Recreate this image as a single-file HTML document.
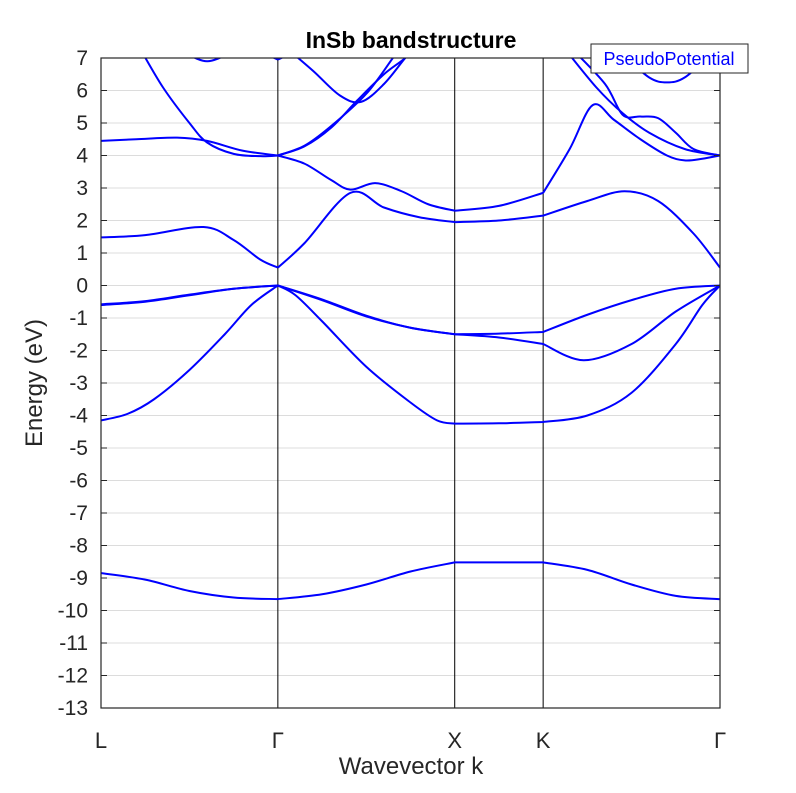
<!DOCTYPE html>
<html><head><meta charset="utf-8"><style>
html,body{margin:0;padding:0;background:#fff;}
svg{display:block;font-family:"Liberation Sans",sans-serif;}
</style></head><body>
<svg id="chart" width="796" height="793">
<rect width="796" height="793" fill="#fff"/>
<defs><clipPath id="plotclip"><rect x="101" y="58" width="619" height="650"/></clipPath></defs>
<g id="grid"></g>
<g id="vlines"></g>
<g id="bands" clip-path="url(#plotclip)"></g>
<rect x="101" y="58" width="619" height="650" fill="none" stroke="#262626" stroke-width="1.2"/>
<g id="yticks"></g>
<g id="xticks"></g>
<text x="411" y="48" text-anchor="middle" font-size="23" font-weight="bold" fill="#000">InSb bandstructure</text>
<text x="411" y="774" text-anchor="middle" font-size="24" fill="#262626">Wavevector k</text>
<text transform="translate(42,383) rotate(-90)" text-anchor="middle" font-size="24" fill="#262626">Energy (eV)</text>
<g>
<rect x="591" y="44" width="157" height="29" fill="#fff" stroke="#262626" stroke-width="1"/>
<text x="669" y="65" text-anchor="middle" font-size="18" fill="#0000ff">PseudoPotential</text>
</g>
</svg>
<script>
const kTicks = [0, 1, 2, 2.5, 3.5];
const kLabels = ["L", "Γ", "X", "K", "Γ"];
const yTickValues = [7,6,5,4,3,2,1,0,-1,-2,-3,-4,-5,-6,-7,-8,-9,-10,-11,-12,-13];
const band1 = [[0,-8.85],[0.25,-9.05],[0.5,-9.4],[0.75,-9.6],[1,-9.65],[1.25,-9.5],[1.5,-9.2],[1.75,-8.8],[2,-8.52],[2.25,-8.52],[2.5,-8.52],[2.75,-8.75],[3,-9.2],[3.25,-9.55],[3.5,-9.65]];
const band2 = [[0,-4.15],[0.15,-3.95],[0.3,-3.5],[0.5,-2.6],[0.7,-1.5],[0.85,-0.6],[1,0],[1.1,-0.3],[1.25,-1.1],[1.5,-2.5],[1.75,-3.6],[1.9,-4.15],[2,-4.25],[2.25,-4.24],[2.5,-4.2],[2.75,-4.0],[3,-3.3],[3.25,-1.8],[3.4,-0.6],[3.5,0]];
const band3 = [[0,-0.6],[0.25,-0.5],[0.5,-0.3],[0.75,-0.1],[1,0],[1.25,-0.45],[1.5,-0.95],[1.75,-1.3],[2,-1.5],[2.25,-1.6],[2.5,-1.8],[2.73,-2.3],[3,-1.8],[3.25,-0.8],[3.5,0]];
const band4 = [[0,-0.58],[0.25,-0.48],[0.5,-0.28],[0.75,-0.1],[1,0],[1.25,-0.43],[1.5,-0.93],[1.75,-1.3],[2,-1.5],[2.25,-1.48],[2.5,-1.43],[2.75,-0.9],[3,-0.45],[3.25,-0.1],[3.5,0]];
const band5 = [[0,1.48],[0.25,1.55],[0.58,1.8],[0.75,1.4],[0.9,0.8],[1,0.55],[1.15,1.3],[1.41,2.85],[1.6,2.4],[1.8,2.1],[2,1.95],[2.25,2.0],[2.5,2.15],[2.75,2.6],[2.96,2.9],[3.15,2.6],[3.35,1.6],[3.5,0.55]];
const band6 = [[0,4.45],[0.2,4.5],[0.43,4.55],[0.6,4.45],[0.8,4.15],[1,4.0],[1.15,3.75],[1.3,3.25],[1.41,2.95],[1.55,3.15],[1.7,2.9],[1.85,2.5],[2,2.3],[2.25,2.45],[2.5,2.85],[2.65,4.2],[2.78,5.55],[2.9,5.1],[3.05,4.5],[3.2,4.0],[3.3,3.85],[3.4,3.9],[3.5,4.0]];
const band7 = [[0.22,7.3],[0.35,6.1],[0.5,5.0],[0.6,4.4],[0.75,4.05],[0.9,3.98],[1,4.0],[1.15,4.3],[1.3,4.9],[1.5,5.9],[1.65,7.0],[1.7,7.4]];
const band8 = [[1,4.0],[1.15,4.28],[1.3,4.85],[1.45,5.7],[1.6,6.5],[1.72,7.0],[1.78,7.4]];
const band9 = [[0.46,7.2],[0.6,6.9],[0.75,7.2]];
const band10 = [[0.9,7.2],[1,6.95],[1.1,7.2]];
const band11 = [[1.05,7.3],[1.2,6.6],[1.35,5.85],[1.47,5.65],[1.6,6.2],[1.72,7.0],[1.8,7.5]];
const band12 = [[2.62,7.3],[2.8,6.1],[2.95,5.3],[3.1,4.7],[3.3,4.2],[3.5,4.0]];
const band13 = [[2.66,7.3],[2.85,6.2],[2.95,5.25],[3.05,5.2],[3.15,5.15],[3.25,4.7],[3.35,4.2],[3.5,4.0]];
const band14 = [[2.95,7.1],[3.1,6.4],[3.2,6.25],[3.3,6.4],[3.45,7.1]];
const allBands = [band1,band2,band3,band4,band5,band6,band7,band8,band9,band10,band11,band12,band13,band14];

const X0=101,X1=720,Y0=58,Y1=708,KMIN=0,KMAX=3.5,EMIN=-13,EMAX=7;
function xs(k){return X0+(k-KMIN)/(KMAX-KMIN)*(X1-X0);}
function ys(e){return Y1-(e-EMIN)/(EMAX-EMIN)*(Y1-Y0);}
const NS="http://www.w3.org/2000/svg";
function mk(t,a,p){const e=document.createElementNS(NS,t);for(const k in a)e.setAttribute(k,a[k]);p.appendChild(e);return e;}

const grid=document.getElementById('grid');
yTickValues.forEach(v=>{
  const l=mk('line',{x1:X0,x2:X1,y1:ys(v),y2:ys(v),stroke:'#dcdcdc','stroke-width':1},grid);
  
  
});
const yt=document.getElementById('yticks');
yTickValues.forEach(v=>{
  const a=mk('line',{x1:X0,x2:X0+6,y1:ys(v),y2:ys(v),stroke:'#262626'},yt);
  
  
  const b=mk('line',{x1:X1-6,x2:X1,y1:ys(v),y2:ys(v),stroke:'#262626'},yt);
  
  
  const t=mk('text',{x:X0-13,y:ys(v)+7,'text-anchor':'end','font-size':21,fill:'#262626'},yt);
  t.textContent=v;
  
  
});
const vl=document.getElementById('vlines'),xt=document.getElementById('xticks');
kTicks.forEach((k,i)=>{
  if(i>0&&i<kTicks.length-1){
    const l=mk('line',{x1:xs(k),x2:xs(k),y1:Y0,y2:Y1,stroke:'#000','stroke-width':1},vl);
    
    
  }
  const t=mk('text',{x:xs(k),y:748,'text-anchor':'middle','font-size':22,fill:'#262626'},xt);
  t.textContent=kLabels[i];
  
  
});
function seg(pts){
  let d='M'+xs(pts[0][0])+','+ys(pts[0][1]);
  for(let i=0;i<pts.length-1;i++){
    const p0=pts[Math.max(i-1,0)],p1=pts[i],p2=pts[i+1],p3=pts[Math.min(i+2,pts.length-1)];
    const c1x=xs(p1[0])+(xs(p2[0])-xs(p0[0]))/6,c1y=ys(p1[1])+(ys(p2[1])-ys(p0[1]))/6;
    const c2x=xs(p2[0])-(xs(p3[0])-xs(p1[0]))/6,c2y=ys(p2[1])-(ys(p3[1])-ys(p1[1]))/6;
    d+=' C'+c1x+','+c1y+' '+c2x+','+c2y+' '+xs(p2[0])+','+ys(p2[1]);
  }
  return d;
}
const bg=document.getElementById('bands');
allBands.forEach((b,bi)=>{
  let cur=[b[0]];let d='';
  for(let i=1;i<b.length;i++){
    cur.push(b[i]);
    if(kTicks.indexOf(b[i][0])>=0&&i<b.length-1){d+=seg(cur)+' ';cur=[b[i]];}
  }
  if(cur.length>1)d+=seg(cur);
  const p=mk('path',{d:d,fill:'none',stroke:'#0000ff','stroke-width':2},bg);
  
  
});
</script>
</body></html>
